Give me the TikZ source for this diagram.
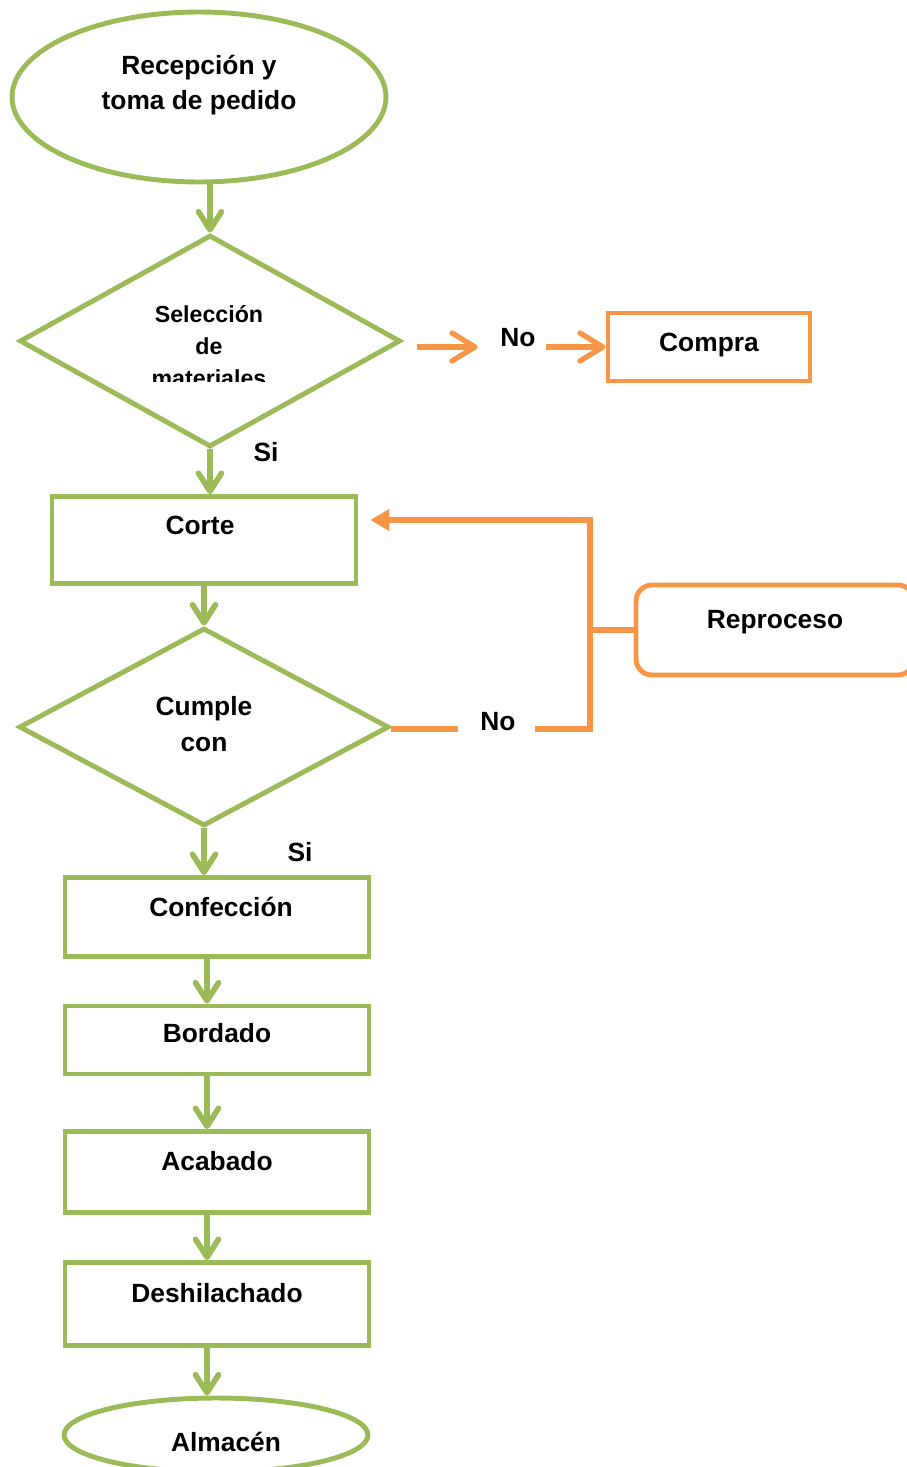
\documentclass[tikz,border=0pt]{standalone}
\usepackage{fontspec}
\setmainfont{Liberation Sans}
\usetikzlibrary{shapes.geometric, arrows.meta, positioning, calc}
\definecolor{flowgreen}{RGB}{155, 187, 89}
\definecolor{floworange}{RGB}{247, 150, 70}
\tikzset{
  termnode/.style={
    ellipse, inner sep=0pt, align=center,
    font=\fontsize{15}{20}\selectfont\bfseries,
    draw=flowgreen, line width=2.8pt
  },
  decnode/.style={
    diamond, inner sep=0pt, align=center,
    font=\fontsize{15}{20}\selectfont\bfseries,
    draw=flowgreen, line width=2.8pt
  },
  procnode/.style={
    rectangle, minimum width=6.08cm,
    text centered, font=\fontsize{15}{20}\selectfont\bfseries,
    draw=flowgreen, line width=2.8pt
  },
  altnode/.style={
    rectangle,
    text centered, font=\fontsize{15}{20}\selectfont\bfseries,
    draw=floworange, line width=2.8pt
  },
  lblnode/.style={inner sep=0pt, font=\fontsize{15}{20}\selectfont\bfseries},
  garrow/.style={draw=flowgreen, line width=3.2pt,
    -{Straight Barb[length=0.36cm, width=0.46cm, line cap=round, line join=round]}},
  oarrow/.style={draw=floworange, line width=3pt,
    -{Straight Barb[length=0.46cm, width=0.56cm, line cap=round, line join=round]}},
  oline/.style={draw=floworange, line width=3pt},
  oback/.style={oline, -{Triangle[length=0.38cm, width=0.42cm]}}
}
\begin{document}
\begin{tikzpicture}[x=0.02cm, y=-0.02cm]
  \useasboundingbox (0,0) rectangle (906,1467);

  %% — — — Main column — — —
  \node[termnode, minimum width=7.48cm, minimum height=3.4cm, text depth=0.57cm]
    (recep) at (199,97) {Recepción y\\toma de pedido};
  \node[decnode, minimum width=7.62cm, minimum height=4.24cm] (selec) at (210,341) {};
  \begin{scope}
    \clip (100,292) rectangle (320,381);
    \node[lblnode, font=\fontsize{13.2}{18}\selectfont\bfseries, align=center]
      (selectxt) at (209,346) {Selección\\de\\materiales};
  \end{scope}
  \node[procnode, minimum height=1.74cm, text depth=0.58cm] (corte) at (204,540) {Corte\kern0.16cm};
  \node[decnode, minimum width=7.4cm, minimum height=3.96cm, text depth=0.12cm] (cumple) at (204,727) {Cumple\\con};
  \node[procnode, minimum height=1.58cm, text depth=0.4cm] (confec) at (217,917) {\hspace{0.16cm}Confección};
  \node[procnode, minimum height=1.36cm, text depth=0.28cm] (bordado) at (217,1040) {Bordado};
  \node[procnode, minimum height=1.62cm, text depth=0.44cm] (acabado) at (217,1172) {Acabado};
  \node[procnode, minimum height=1.66cm, text depth=0.44cm] (deshil) at (217,1304) {Deshilachado};
  \node[termnode, minimum width=6.08cm, minimum height=1.48cm, text height=0.68cm]
    (almacen) at (216,1435) {\hspace{0.4cm}Almacén};

  %% — — — Side branches — — —
  \node[altnode, minimum width=4.04cm, minimum height=1.36cm, text depth=0.19cm]
    (compra) at (709,347) {Compra};
  \node[altnode, rounded corners=0.32cm, minimum width=5.56cm, minimum height=1.8cm,
    text depth=0.43cm] (repro) at (775,630) {Reproceso};

  \node[lblnode] (no1) at (518,338) {No};
  \node[lblnode] (si1) at (266,452) {Si};
  \node[lblnode] (no2) at (498,722) {No};
  \node[lblnode] (si2) at (300,852) {Si};
  \coordinate (loop) at (590,729);

  %% — — — Arrows — — —
  \draw[garrow] (recep.south -| selec.north) -- (selec.north);
  \draw[garrow] (selec.south) -- (selec.south |- corte.north);
  \draw[garrow] (cumple.north |- corte.south) -- (cumple.north);
  \draw[garrow] (cumple.south) -- (cumple.south |- confec.north);
  \draw[garrow] ([xshift=-0.2cm]confec.south) -- ([xshift=-0.2cm]bordado.north);
  \draw[garrow] ([xshift=-0.2cm]bordado.south) -- ([xshift=-0.2cm]acabado.north);
  \draw[garrow] ([xshift=-0.2cm]acabado.south) -- ([xshift=-0.2cm]deshil.north);
  \draw[garrow] ([xshift=-0.2cm]deshil.south) -- ([xshift=-0.2cm]deshil.south |- almacen.north);

  \draw[oarrow, shorten <=0.28cm, shorten >=0.45cm] (selec.east |- compra.west) -- (no1.west |- compra.west);
  \draw[oarrow, shorten <=0.2cm] (no1.east |- compra.west) -- (compra.west);

  \draw[oline, shorten >=0.45cm] (cumple.east |- loop) -- (no2.west |- loop);
  \draw[oback, shorten <=0.39cm, shorten >=0.24cm] (no2.east |- loop) -- (loop) |- ([yshift=0.4cm]corte.east);
  \draw[oline] (loop |- repro.west) -- (repro.west);

\end{tikzpicture}
\end{document}
